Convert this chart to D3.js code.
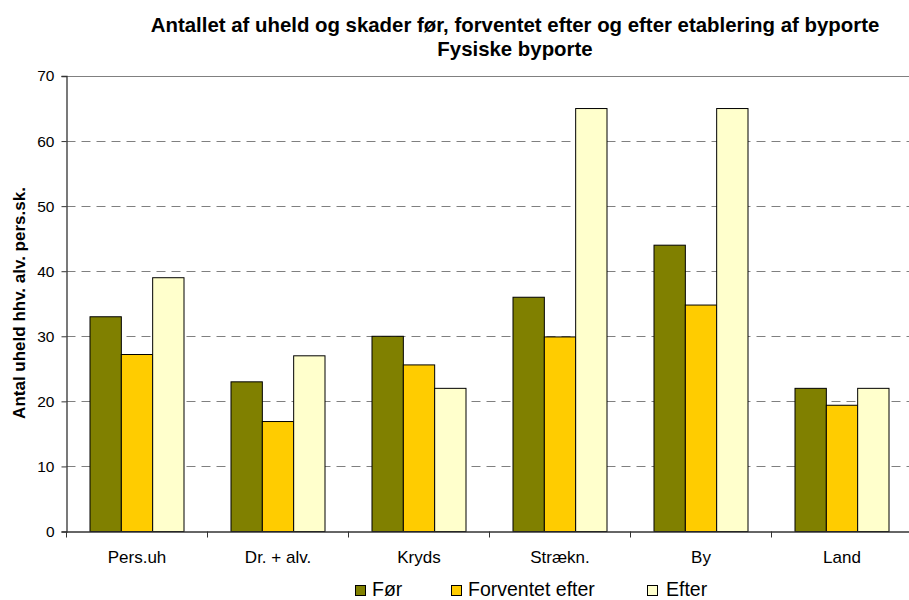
<!DOCTYPE html>
<html>
<head>
<meta charset="utf-8">
<script src="https://cdn.jsdelivr.net/npm/d3@7"></script>
<style>
  html, body { margin: 0; padding: 0; background: #fff; }
  svg { display: block; font-family: Arial, "Liberation Sans", sans-serif; }
</style>
</head>
<body>
<svg id="chart" width="909" height="600"></svg>
<script>
const categories = ["Pers.uh", "Dr. + alv.", "Kryds", "Strækn.", "By", "Land"];
const seriesNames = ["Før", "Forventet efter", "Efter"];
const forValues = [33, 23, 30, 36, 44, 22];
const forventetValues = [27.2, 16.9, 25.6, 29.9, 34.8, 19.4];
const efterValues = [39, 27, 22, 65, 65, 22];
const yTicks = [0, 10, 20, 30, 40, 50, 60, 70];
const colors = ["#808000", "#FFCC00", "#FFFFCC"];
const titleLines = ["Antallet af uheld og skader før, forventet efter og efter etablering af byporte", "Fysiske byporte"];
const yTitle = "Antal uheld hhv. alv. pers.sk.";

const seriesValues = [forValues, forventetValues, efterValues];

const svg = d3.select("#chart");
const plotLeft = 66.5, plotRight = 912.5, plotTop = 76, plotBottom = 531.5;

const x0 = d3.scaleBand().domain(categories).range([plotLeft, plotRight]).padding(0);
const bw = x0.bandwidth();
const x1 = d3.scaleBand().domain(seriesNames).range([bw * 0.75 / 4.5, bw * 3.75 / 4.5]).padding(0);
const y = d3.scaleLinear().domain([0, 70]).range([plotBottom, plotTop]);

// gridlines
svg.append("g").selectAll("line")
  .data(yTicks.filter(t => t > 0 && t < 70))
  .join("line")
  .attr("x1", plotLeft).attr("x2", plotRight)
  .attr("y1", d => Math.round(y(d)) + 0.5).attr("y2", d => Math.round(y(d)) + 0.5)
  .attr("stroke", "#808080").attr("stroke-width", 1)
  .attr("stroke-dasharray", "9,6");

// top border
svg.append("line")
  .attr("x1", plotLeft).attr("x2", plotRight)
  .attr("y1", Math.round(y(70)) + 0.5).attr("y2", Math.round(y(70)) + 0.5)
  .attr("stroke", "#808080").attr("stroke-width", 1.2);

// bars
const groups = svg.append("g").selectAll("g")
  .data(categories)
  .join("g")
  .attr("transform", d => `translate(${x0(d)},0)`);

groups.selectAll("rect")
  .data((c, i) => seriesNames.map((s, j) => ({ s, j, v: seriesValues[j][i] })))
  .join("rect")
  .attr("x", d => x1(d.s))
  .attr("width", x1.bandwidth())
  .attr("y", d => y(d.v))
  .attr("height", d => y(0) - y(d.v))
  .attr("fill", d => colors[d.j])
  .attr("stroke", "#000")
  .attr("stroke-width", 1);

// y axis
const yAxis = d3.axisLeft(y).tickValues(yTicks).tickSize(5).tickPadding(7).tickFormat(d3.format("d"));
const gy = svg.append("g").attr("transform", `translate(${plotLeft},0)`).call(yAxis);
gy.select(".domain").attr("stroke", "#333").attr("stroke-width", 1.3);
gy.selectAll(".tick line").attr("stroke", "#333");
gy.selectAll(".tick text").attr("font-size", "15.5px").attr("fill", "#000")
  .attr("font-family", "Arial, 'Liberation Sans', sans-serif");

// x axis
const xAxis = d3.axisBottom(x0).tickSize(0).tickPadding(0);
const gx = svg.append("g").attr("transform", `translate(0,${plotBottom})`).call(xAxis);
gx.select(".domain").attr("stroke", "#333").attr("stroke-width", 1.3);
gx.selectAll(".tick text").attr("font-size", "17px").attr("fill", "#000")
  .attr("dy", null).attr("y", 31.5)
  .attr("font-family", "Arial, 'Liberation Sans', sans-serif");
// category boundary ticks
gx.append("g").selectAll("line")
  .data(categories)
  .join("line")
  .attr("x1", d => x0(d)).attr("x2", d => x0(d))
  .attr("y1", 0).attr("y2", 6)
  .attr("stroke", "#333").attr("stroke-width", 1);

// title
svg.append("g").selectAll("text")
  .data(titleLines)
  .join("text")
  .attr("x", 515)
  .attr("y", (d, i) => 32 + i * 24)
  .attr("text-anchor", "middle")
  .attr("font-weight", "bold")
  .attr("font-size", "20.4px")
  .attr("fill", "#000")
  .text(d => d);

// y title
svg.append("text")
  .attr("transform", "translate(25,303) rotate(-90)")
  .attr("text-anchor", "middle")
  .attr("font-weight", "bold")
  .attr("font-size", "17px")
  .attr("fill", "#000")
  .text(yTitle);

// legend
const legendX = [355, 451, 647];
const lg = svg.append("g").selectAll("g")
  .data(seriesNames)
  .join("g")
  .attr("transform", (d, i) => `translate(${legendX[i]},0)`);
lg.append("rect")
  .attr("x", 0.5).attr("y", 585.5)
  .attr("width", 10).attr("height", 10)
  .attr("fill", (d, i) => colors[i])
  .attr("stroke", "#000").attr("stroke-width", 1);
lg.append("text")
  .attr("x", (d, i) => i === 2 ? 19 : 17)
  .attr("y", 596)
  .attr("font-size", "19.5px")
  .attr("fill", "#000")
  .text(d => d);
</script>
</body>
</html>
